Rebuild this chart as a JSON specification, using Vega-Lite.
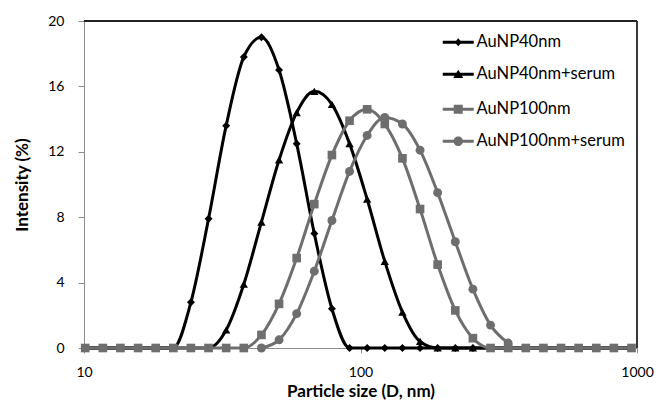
{
  "$schema": "https://vega.github.io/schema/vega-lite/v6.json",
  "width": 553,
  "height": 327,
  "autosize": {"type": "none"},
  "padding": {"left": 84, "top": 21, "right": 20, "bottom": 55},
  "background": "#ffffff",
  "config": {
    "font": "Lato",
    "view": {"stroke": null},
    "axis": {
      "grid": false,
      "domainColor": "#8c8c8c",
      "tickColor": "#8c8c8c",
      "labelColor": "#000000",
      "titleColor": "#000000",
      "labelFont": "Lato",
      "titleFont": "Lato",
      "labelFontSize": 14,
      "titleFontSize": 17,
      "titleFontWeight": "bold",
      "zindex": 1
    },
    "axisY": {"tickCount": 10},
    "legend": {
      "title": null,
      "orient": "none",
      "labelFontSize": 16.5,
      "labelFont": "Lato",
      "labelColor": "#000000",
      "symbolSize": 100,
      "symbolOffset": 24,
      "labelOffset": 10,
      "rowPadding": 15,
      "symbolStrokeWidth": 0,
      "symbolOpacity": 1
    }
  },
  "datasets": {
    "dls": [
      {"series": "AuNP40nm", "d": 10.1, "v": 0},
      {"series": "AuNP40nm", "d": 11.7, "v": 0},
      {"series": "AuNP40nm", "d": 13.54, "v": 0},
      {"series": "AuNP40nm", "d": 15.69, "v": 0},
      {"series": "AuNP40nm", "d": 18.17, "v": 0},
      {"series": "AuNP40nm", "d": 21.04, "v": 0},
      {"series": "AuNP40nm", "d": 24.36, "v": 2.8},
      {"series": "AuNP40nm", "d": 28.21, "v": 7.9},
      {"series": "AuNP40nm", "d": 32.67, "v": 13.6},
      {"series": "AuNP40nm", "d": 37.84, "v": 17.8},
      {"series": "AuNP40nm", "d": 43.82, "v": 19.0},
      {"series": "AuNP40nm", "d": 50.75, "v": 17.0},
      {"series": "AuNP40nm", "d": 58.77, "v": 12.5},
      {"series": "AuNP40nm", "d": 68.06, "v": 7.0},
      {"series": "AuNP40nm", "d": 78.82, "v": 2.4},
      {"series": "AuNP40nm", "d": 91.28, "v": 0},
      {"series": "AuNP40nm", "d": 105.7, "v": 0},
      {"series": "AuNP40nm", "d": 122.4, "v": 0},
      {"series": "AuNP40nm", "d": 141.8, "v": 0},
      {"series": "AuNP40nm", "d": 164.2, "v": 0},
      {"series": "AuNP40nm", "d": 190.1, "v": 0},
      {"series": "AuNP40nm", "d": 220.2, "v": 0},
      {"series": "AuNP40nm", "d": 255.0, "v": 0},
      {"series": "AuNP40nm", "d": 295.3, "v": 0},
      {"series": "AuNP40nm", "d": 342.0, "v": 0},
      {"series": "AuNP40nm", "d": 396.1, "v": 0},
      {"series": "AuNP40nm", "d": 458.7, "v": 0},
      {"series": "AuNP40nm", "d": 531.2, "v": 0},
      {"series": "AuNP40nm", "d": 615.1, "v": 0},
      {"series": "AuNP40nm", "d": 712.4, "v": 0},
      {"series": "AuNP40nm", "d": 825.0, "v": 0},
      {"series": "AuNP40nm", "d": 955.4, "v": 0},
      {"series": "AuNP40nm+serum", "d": 10.1, "v": 0},
      {"series": "AuNP40nm+serum", "d": 11.7, "v": 0},
      {"series": "AuNP40nm+serum", "d": 13.54, "v": 0},
      {"series": "AuNP40nm+serum", "d": 15.69, "v": 0},
      {"series": "AuNP40nm+serum", "d": 18.17, "v": 0},
      {"series": "AuNP40nm+serum", "d": 21.04, "v": 0},
      {"series": "AuNP40nm+serum", "d": 24.36, "v": 0},
      {"series": "AuNP40nm+serum", "d": 28.21, "v": 0},
      {"series": "AuNP40nm+serum", "d": 32.67, "v": 1.1},
      {"series": "AuNP40nm+serum", "d": 37.84, "v": 3.9},
      {"series": "AuNP40nm+serum", "d": 43.82, "v": 7.7},
      {"series": "AuNP40nm+serum", "d": 50.75, "v": 11.5},
      {"series": "AuNP40nm+serum", "d": 58.77, "v": 14.4},
      {"series": "AuNP40nm+serum", "d": 68.06, "v": 15.7},
      {"series": "AuNP40nm+serum", "d": 78.82, "v": 14.9},
      {"series": "AuNP40nm+serum", "d": 91.28, "v": 12.5},
      {"series": "AuNP40nm+serum", "d": 105.7, "v": 9.1},
      {"series": "AuNP40nm+serum", "d": 122.4, "v": 5.3},
      {"series": "AuNP40nm+serum", "d": 141.8, "v": 2.2},
      {"series": "AuNP40nm+serum", "d": 164.2, "v": 0.4},
      {"series": "AuNP40nm+serum", "d": 190.1, "v": 0},
      {"series": "AuNP40nm+serum", "d": 220.2, "v": 0},
      {"series": "AuNP40nm+serum", "d": 255.0, "v": 0},
      {"series": "AuNP40nm+serum", "d": 295.3, "v": 0},
      {"series": "AuNP40nm+serum", "d": 342.0, "v": 0},
      {"series": "AuNP40nm+serum", "d": 396.1, "v": 0},
      {"series": "AuNP40nm+serum", "d": 458.7, "v": 0},
      {"series": "AuNP40nm+serum", "d": 531.2, "v": 0},
      {"series": "AuNP40nm+serum", "d": 615.1, "v": 0},
      {"series": "AuNP40nm+serum", "d": 712.4, "v": 0},
      {"series": "AuNP40nm+serum", "d": 825.0, "v": 0},
      {"series": "AuNP40nm+serum", "d": 955.4, "v": 0},
      {"series": "AuNP100nm", "d": 10.1, "v": 0},
      {"series": "AuNP100nm", "d": 11.7, "v": 0},
      {"series": "AuNP100nm", "d": 13.54, "v": 0},
      {"series": "AuNP100nm", "d": 15.69, "v": 0},
      {"series": "AuNP100nm", "d": 18.17, "v": 0},
      {"series": "AuNP100nm", "d": 21.04, "v": 0},
      {"series": "AuNP100nm", "d": 24.36, "v": 0},
      {"series": "AuNP100nm", "d": 28.21, "v": 0},
      {"series": "AuNP100nm", "d": 32.67, "v": 0},
      {"series": "AuNP100nm", "d": 37.84, "v": 0},
      {"series": "AuNP100nm", "d": 43.82, "v": 0.8},
      {"series": "AuNP100nm", "d": 50.75, "v": 2.7},
      {"series": "AuNP100nm", "d": 58.77, "v": 5.5},
      {"series": "AuNP100nm", "d": 68.06, "v": 8.8},
      {"series": "AuNP100nm", "d": 78.82, "v": 11.8},
      {"series": "AuNP100nm", "d": 91.28, "v": 13.9},
      {"series": "AuNP100nm", "d": 105.7, "v": 14.6},
      {"series": "AuNP100nm", "d": 122.4, "v": 13.7},
      {"series": "AuNP100nm", "d": 141.8, "v": 11.6},
      {"series": "AuNP100nm", "d": 164.2, "v": 8.5},
      {"series": "AuNP100nm", "d": 190.1, "v": 5.1},
      {"series": "AuNP100nm", "d": 220.2, "v": 2.3},
      {"series": "AuNP100nm", "d": 255.0, "v": 0.6},
      {"series": "AuNP100nm", "d": 295.3, "v": 0},
      {"series": "AuNP100nm", "d": 342.0, "v": 0},
      {"series": "AuNP100nm", "d": 396.1, "v": 0},
      {"series": "AuNP100nm", "d": 458.7, "v": 0},
      {"series": "AuNP100nm", "d": 531.2, "v": 0},
      {"series": "AuNP100nm", "d": 615.1, "v": 0},
      {"series": "AuNP100nm", "d": 712.4, "v": 0},
      {"series": "AuNP100nm", "d": 825.0, "v": 0},
      {"series": "AuNP100nm", "d": 955.4, "v": 0},
      {"series": "AuNP100nm+serum", "d": 43.82, "v": 0},
      {"series": "AuNP100nm+serum", "d": 50.75, "v": 0.5},
      {"series": "AuNP100nm+serum", "d": 58.77, "v": 2.1},
      {"series": "AuNP100nm+serum", "d": 68.06, "v": 4.7},
      {"series": "AuNP100nm+serum", "d": 78.82, "v": 7.8},
      {"series": "AuNP100nm+serum", "d": 91.28, "v": 10.8},
      {"series": "AuNP100nm+serum", "d": 105.7, "v": 13.0},
      {"series": "AuNP100nm+serum", "d": 122.4, "v": 14.1},
      {"series": "AuNP100nm+serum", "d": 141.8, "v": 13.7},
      {"series": "AuNP100nm+serum", "d": 164.2, "v": 12.1},
      {"series": "AuNP100nm+serum", "d": 190.1, "v": 9.5},
      {"series": "AuNP100nm+serum", "d": 220.2, "v": 6.5},
      {"series": "AuNP100nm+serum", "d": 255.0, "v": 3.6},
      {"series": "AuNP100nm+serum", "d": 295.3, "v": 1.4},
      {"series": "AuNP100nm+serum", "d": 342.0, "v": 0.3}
    ],
    "frame": [{"edge": "plot area"}]
  },
  "data": {"name": "dls"},
  "resolve": {
    "scale": {"shape": "independent"}
  },
  "layer": [
    {
      "mark": {"type": "line", "interpolate": "monotone", "strokeWidth": 3},
      "encoding": {
        "x": {
          "field": "d",
          "type": "quantitative",
          "scale": {"type": "log", "domain": [10, 1000], "nice": false},
          "axis": {
            "title": "Particle size (D, nm)",
            "values": [10, 100, 1000],
            "format": "d",
            "tickSize": 5,
            "labelPadding": 12,
            "titlePadding": 4,
            "labelFlush": false
          }
        },
        "y": {
          "field": "v",
          "type": "quantitative",
          "scale": {"domain": [0, 20], "nice": false},
          "axis": {
            "title": "Intensity (%)",
            "values": [0, 2, 4, 6, 8, 10, 12, 14, 16, 18, 20],
            "tickCount": 10,
            "tickSize": 6,
            "labelPadding": 14,
            "titlePadding": 16
          }
        },
        "color": {
          "field": "series",
          "type": "nominal",
          "scale": {
            "domain": ["AuNP40nm", "AuNP40nm+serum", "AuNP100nm", "AuNP100nm+serum"],
            "range": ["#000000", "#000000", "#6e6e6e", "#6e6e6e"]
          },
          "legend": null
        }
      }
    },
    {
      "mark": {"type": "point", "filled": true, "opacity": 1},
      "encoding": {
        "x": {"field": "d", "type": "quantitative"},
        "y": {"field": "v", "type": "quantitative"},
        "color": {"field": "series", "type": "nominal", "legend": null},
        "shape": {
          "field": "series",
          "type": "nominal",
          "scale": {
            "domain": ["AuNP40nm", "AuNP40nm+serum", "AuNP100nm", "AuNP100nm+serum"],
            "range": ["diamond", "triangle-up", "square", "circle"]
          },
          "legend": null
        },
        "size": {
          "field": "series",
          "type": "nominal",
          "scale": {
            "domain": ["AuNP40nm", "AuNP40nm+serum", "AuNP100nm", "AuNP100nm+serum"],
            "range": [64, 80, 72, 90]
          },
          "legend": null
        }
      }
    },
    {
      "transform": [{"filter": "datum.v < 0"}],
      "mark": {"type": "point", "filled": true, "fill": "#000000", "opacity": 1},
      "encoding": {
        "x": {"field": "d", "type": "quantitative"},
        "y": {"field": "v", "type": "quantitative"},
        "shape": {
          "field": "series",
          "type": "nominal",
          "scale": {
            "domain": ["AuNP40nm", "AuNP40nm+serum"],
            "range": [
              "M-3.1,-0.28H3.1V0.28H-3.1ZM0,-0.8L0.7,0L0,0.8L-0.7,0Z",
              "M-3.1,-0.28H3.1V0.28H-3.1ZM0,-0.9L1,0.75L-1,0.75Z"
            ]
          },
          "legend": {
            "legendX": 342,
            "legendY": 13,
            "symbolFillColor": "#000000"
          }
        }
      }
    },
    {
      "transform": [{"filter": "datum.v < 0"}],
      "mark": {"type": "point", "filled": true, "fill": "#6e6e6e", "opacity": 1},
      "encoding": {
        "x": {"field": "d", "type": "quantitative"},
        "y": {"field": "v", "type": "quantitative"},
        "shape": {
          "field": "series",
          "type": "nominal",
          "scale": {
            "domain": ["AuNP100nm", "AuNP100nm+serum"],
            "range": [
              "M-3.1,-0.28H3.1V0.28H-3.1ZM-0.9,-0.9H0.9V0.9H-0.9Z",
              "M-3.1,-0.28H3.1V0.28H-3.1ZM0.95,0A0.95,0.95,0,1,1,-0.95,0A0.95,0.95,0,1,1,0.95,0Z"
            ]
          },
          "legend": {
            "legendX": 342,
            "legendY": 80,
            "symbolFillColor": "#6e6e6e"
          }
        }
      }
    },
    {
      "data": {"name": "frame"},
      "mark": {"type": "rule", "color": "#222222", "strokeWidth": 1.8},
      "encoding": {
        "x": {"datum": 10, "type": "quantitative"},
        "x2": {"datum": 1000},
        "y": {"datum": 20, "type": "quantitative"}
      }
    },
    {
      "data": {"name": "frame"},
      "mark": {"type": "rule", "color": "#222222", "strokeWidth": 1.8},
      "encoding": {
        "x": {"datum": 1000, "type": "quantitative"},
        "y": {"datum": 0, "type": "quantitative"},
        "y2": {"datum": 20}
      }
    }
  ]
}
